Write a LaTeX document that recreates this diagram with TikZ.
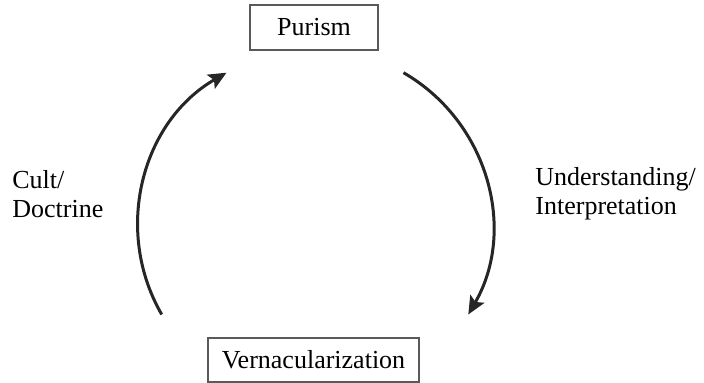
\documentclass[tikz,border=0pt]{standalone}
\usepackage{fontspec}
\setmainfont{Liberation Serif}
\usetikzlibrary{arrows.meta,calc}

\begin{document}
\begin{tikzpicture}[x=0.5pt,y=0.5pt,
  stage/.style={draw=black!65,line width=0.8pt,inner sep=0pt,font=\fontsize{13}{15}\selectfont},
  cycarrow/.style={line width=1.5pt,draw=black!85,-{Stealth[length=9pt,width=8pt,inset=1.8pt]}},
  side/.style={align=left,anchor=west,inner sep=0pt,font=\fontsize{13}{14.5}\selectfont}]
\useasboundingbox (0,0) rectangle (704,383);
\node[stage,minimum width=64pt,minimum height=22.5pt] (purism) at (314,355.5) {Purism};
\node[stage,minimum width=105.5pt,minimum height=22pt] (vern) at (313.5,23) {Vernacularization};
\node[side] (cult) at (12,189) {Cult/\\Doctrine};
\node[side] (underst) at (535,189) {Understanding/\\Interpretation};
% the two arcs of the cycle
\coordinate (mid) at (315,157);
\coordinate (lstart) at ($(mid)+(210:177)$);
\coordinate (rstart) at ($(mid)+(60:177)$);
\draw[cycarrow] (lstart) arc[start angle=210,end angle=120,radius=177];
\draw[cycarrow] (rstart) arc[start angle=60,end angle=-30,radius=177];
\end{tikzpicture}
\end{document}
